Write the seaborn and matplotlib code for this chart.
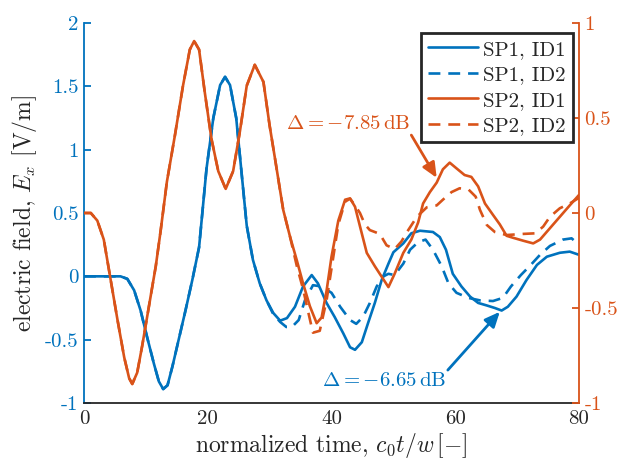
import matplotlib
matplotlib.use("Agg")
import matplotlib.pyplot as plt
import pandas as pd
import seaborn as sns

BLUE = "#0072BD"
ORANGE = "#D95319"
DARK = "#262626"

# SP1 (left axis)
sp1_id1_t = [0, 5.9, 7.0, 8.1, 9.15, 10.2, 11.3, 12.1, 12.8, 13.5, 14.3, 15.3, 16.4, 17.5,
             18.6, 19.8, 20.9, 22.0, 22.8, 23.6, 24.6, 25.4, 26.3, 27.3, 28.4, 29.5, 30.6,
             31.7, 32.8, 34.1, 35.4, 36.8, 37.8, 39.2, 40.5, 41.9, 43.0, 43.8, 44.9, 45.9,
             47.0, 48.1, 49.2, 50.0, 51.6, 52.9, 54.3, 56.4, 57.5, 58.5, 59.6, 61.0, 62.4,
             63.7, 65.1, 66.4, 67.5, 68.5, 69.9, 71.5, 73.2, 74.8, 76.9, 78.5, 80]
sp1_id1_e = [0, 0, -0.02, -0.11, -0.27, -0.48, -0.69, -0.83, -0.89, -0.86, -0.71, -0.50, -0.27, -0.03,
             0.23, 0.85, 1.25, 1.51, 1.575, 1.51, 1.25, 0.85, 0.40, 0.13, -0.055, -0.19, -0.29,
             -0.35, -0.33, -0.24, -0.08, 0.01, -0.055, -0.21, -0.32, -0.45, -0.56, -0.58, -0.52, -0.37,
             -0.21, -0.03, 0.10, 0.19, 0.26, 0.34, 0.36, 0.35, 0.31, 0.21, 0.02, -0.08, -0.16,
             -0.21, -0.23, -0.25, -0.27, -0.24, -0.16, -0.03, 0.09, 0.155, 0.186, 0.195, 0.17]

sp1_id2_t = [0, 5.9, 7.0, 8.1, 9.15, 10.2, 11.3, 12.1, 12.8, 13.5, 14.3, 15.3, 16.4, 17.5,
             18.6, 19.8, 20.9, 22.0, 22.8, 23.6, 24.6, 25.4, 26.3, 27.3, 28.4, 29.5, 30.6,
             31.7, 32.7, 33.6, 34.7, 35.7, 37.0, 38.4, 40.0, 41.4, 43.0, 44.0, 45.1, 46.2,
             47.3, 48.4, 49.2, 50.2, 51.6, 52.7, 54.0, 55.2, 56.4, 57.8, 58.9, 60.2, 62.1,
             64.0, 66.1, 67.7, 69.0, 70.6, 72.2, 73.7, 75.3, 77.4, 78.8, 80]
sp1_id2_e = [0, 0, -0.02, -0.11, -0.27, -0.48, -0.69, -0.83, -0.89, -0.86, -0.71, -0.50, -0.27, -0.03,
             0.23, 0.85, 1.25, 1.51, 1.575, 1.51, 1.25, 0.85, 0.40, 0.13, -0.055, -0.19, -0.30,
             -0.36, -0.40, -0.40, -0.345, -0.19, -0.07, -0.08, -0.13, -0.24, -0.345, -0.375, -0.32, -0.21,
             -0.08, 0.0, 0.02, 0.01, 0.10, 0.21, 0.27, 0.29, 0.21, 0.08, -0.055, -0.13, -0.17,
             -0.19, -0.195, -0.17, -0.08, 0.01, 0.09, 0.17, 0.24, 0.29, 0.30, 0.25]

# SP2 (right axis)
sp2_id1_t = [0, 1.1, 2.15, 3.2, 4.3, 5.4, 6.5, 7.3, 7.8, 8.6, 9.4, 10.5, 11.6, 12.4, 13.4,
             14.7, 16.0, 17.1, 17.8, 18.6, 19.5, 20.6, 21.7, 22.9, 24.1, 25.2, 26.3, 27.6,
             29.0, 30.0, 30.9, 32.2, 33.3, 34.4, 35.4, 36.5, 37.6, 38.4, 39.2, 40.0, 41.1,
             42.2, 43.0, 43.8, 44.6, 45.7, 47.0, 48.1, 49.2, 50.2, 51.6, 52.9, 54.0, 54.8,
             55.9, 57.0, 58.0, 59.1, 60.2, 61.5, 62.6, 63.7, 64.8, 66.1, 67.2, 68.3, 69.3,
             71.0, 72.6, 73.7, 75.3, 76.9, 78.5, 80]
sp2_id1_e = [0, 0, -0.04, -0.14, -0.35, -0.56, -0.76, -0.87, -0.90, -0.84, -0.70, -0.49, -0.28, -0.09, 0.165,
             0.41, 0.67, 0.86, 0.905, 0.86, 0.64, 0.39, 0.22, 0.127, 0.22, 0.43, 0.67, 0.78,
             0.69, 0.46, 0.28, 0.016, -0.125, -0.25, -0.37, -0.49, -0.58, -0.55, -0.41, -0.23, -0.04,
             0.07, 0.077, 0.033, -0.07, -0.21, -0.28, -0.335, -0.39, -0.32, -0.21, -0.14, -0.05, 0.05,
             0.11, 0.16, 0.23, 0.265, 0.235, 0.20, 0.19, 0.14, 0.05, -0.01, -0.06, -0.12, -0.13,
             -0.146, -0.16, -0.14, -0.08, -0.02, 0.04, 0.095]

sp2_id2_t = [0, 1.1, 2.15, 3.2, 4.3, 5.4, 6.5, 7.3, 7.8, 8.6, 9.4, 10.5, 11.6, 12.4, 13.4,
             14.7, 16.0, 17.1, 17.8, 18.6, 19.5, 20.6, 21.7, 22.9, 24.1, 25.2, 26.3, 27.6,
             29.0, 30.0, 30.9, 32.2, 33.3, 34.4, 35.4, 36.3, 37.0, 38.1, 39.2, 40.2, 41.1,
             42.2, 43.0, 43.8, 44.6, 45.4, 46.2, 47.0, 47.8, 48.9, 50.2, 51.3, 52.2, 53.8,
             55.4, 57.0, 58.0, 59.4, 60.7, 62.1, 63.3, 64.0, 65.1, 66.4, 68.3, 71.0, 72.9,
             74.2, 75.3, 76.9, 78.5, 80]
sp2_id2_e = [0, 0, -0.04, -0.14, -0.35, -0.56, -0.76, -0.87, -0.90, -0.84, -0.70, -0.49, -0.28, -0.09, 0.165,
             0.41, 0.67, 0.86, 0.905, 0.86, 0.64, 0.39, 0.22, 0.127, 0.22, 0.43, 0.67, 0.78,
             0.69, 0.46, 0.28, 0.016, -0.125, -0.28, -0.40, -0.53, -0.63, -0.62, -0.46, -0.25, -0.06,
             0.06, 0.075, 0.04, 0.0, -0.06, -0.09, -0.10, -0.11, -0.17, -0.19, -0.15, -0.10, -0.02,
             0.03, 0.04, 0.07, 0.11, 0.13, 0.125, 0.086, 0.016, -0.063, -0.10, -0.116, -0.11, -0.107,
             -0.072, -0.02, 0.025, 0.05, 0.08]

x_ticks = [0, 20, 40, 60, 80]
left_ticks = [-1, -0.5, 0, 0.5, 1, 1.5, 2]
right_ticks = [-1, -0.5, 0, 0.5, 1]


def main():
    sns.set_style("white")
    plt.rcParams["font.family"] = ["cmr10", "DejaVu Serif"]
    plt.rcParams["mathtext.fontset"] = "cm"
    plt.rcParams["axes.unicode_minus"] = False

    fig = plt.figure(figsize=(6.19, 4.63), dpi=100)
    ax = fig.add_axes([0.1357, 0.1296, 0.7997, 0.8207])
    ax2 = ax.twinx()

    df11 = pd.DataFrame({"t": sp1_id1_t, "E": sp1_id1_e})
    df12 = pd.DataFrame({"t": sp1_id2_t, "E": sp1_id2_e})
    df21 = pd.DataFrame({"t": sp2_id1_t, "E": sp2_id1_e})
    df22 = pd.DataFrame({"t": sp2_id2_t, "E": sp2_id2_e})

    lw = 1.9
    dash = (0, (4.5, 3))
    sns.lineplot(data=df11, x="t", y="E", ax=ax, color=BLUE, lw=lw, label="SP1, ID1", legend=False)
    sns.lineplot(data=df12, x="t", y="E", ax=ax, color=BLUE, lw=lw, ls=dash, label="SP1, ID2", legend=False)
    sns.lineplot(data=df21, x="t", y="E", ax=ax2, color=ORANGE, lw=lw, label="SP2, ID1", legend=False)
    sns.lineplot(data=df22, x="t", y="E", ax=ax2, color=ORANGE, lw=lw, ls=dash, label="SP2, ID2", legend=False)

    ax.set_xlim(0, 80)
    ax.set_ylim(-1, 2)
    ax2.set_ylim(-1, 1)
    ax.set_xticks(x_ticks)
    ax.set_xticklabels([f"{v:g}" for v in x_ticks])
    ax.set_yticks(left_ticks)
    ax2.set_yticks(right_ticks)
    ax.set_yticklabels([f"{v:g}" for v in left_ticks])
    ax2.set_yticklabels([f"{v:g}" for v in right_ticks])

    ax.set_xlabel(r"normalized time, $c_0t/w\,[-]$", fontsize=17, color=DARK, labelpad=2)
    ax.set_ylabel(r"electric field, $E_x$ [V/m]", fontsize=17, color=DARK, labelpad=4)
    ax2.set_ylabel("")

    for a in (ax, ax2):
        a.spines["top"].set_visible(False)
        for s in a.spines.values():
            s.set_linewidth(1.3)
    ax.spines["left"].set_color(BLUE)
    ax.spines["bottom"].set_color(DARK)
    ax.spines["right"].set_visible(False)
    ax2.spines["left"].set_visible(False)
    ax2.spines["bottom"].set_visible(False)
    ax2.spines["right"].set_color(ORANGE)

    ax.tick_params(axis="x", direction="in", colors=DARK, labelsize=15, length=5, width=1.3, top=False, pad=5)
    ax.tick_params(axis="y", direction="in", colors=BLUE, labelsize=15, length=5, width=1.3, pad=4)
    ax2.tick_params(axis="y", direction="in", colors=ORANGE, labelsize=15, length=5, width=1.3, pad=4)

    arrow = "-|>,head_length=0.9,head_width=0.4"
    ax2.text(52.7, 0.47, r"$\Delta = -7.85\,\mathrm{dB}$", color=ORANGE, fontsize=15,
             ha="right", va="center")
    ax2.annotate("", xy=(57.0, 0.185), xytext=(52.9, 0.41),
                 arrowprops=dict(arrowstyle=arrow, color=ORANGE, lw=2, shrinkA=0, shrinkB=0))
    ax.text(58.6, -0.83, r"$\Delta = -6.65\,\mathrm{dB}$", color=BLUE, fontsize=15,
            ha="right", va="center")
    ax.annotate("", xy=(67.2, -0.28), xytext=(58.8, -0.74),
                arrowprops=dict(arrowstyle=arrow, color=BLUE, lw=2, shrinkA=0, shrinkB=0))

    h1, l1 = ax.get_legend_handles_labels()
    h2, l2 = ax2.get_legend_handles_labels()
    leg = ax2.legend(h1 + h2, l1 + l2, loc="upper right", bbox_to_anchor=(0.988, 0.974),
                     borderaxespad=0, fancybox=False, framealpha=1, fontsize=15,
                     handlelength=2.4, handletextpad=0.25, labelspacing=0.33,
                     borderpad=0.35, edgecolor=DARK)
    leg.get_frame().set_linewidth(2)
    for t in leg.get_texts():
        t.set_color(DARK)

    fig.savefig("out.png", dpi=100)
    plt.close(fig)


if __name__ == "__main__":
    main()
